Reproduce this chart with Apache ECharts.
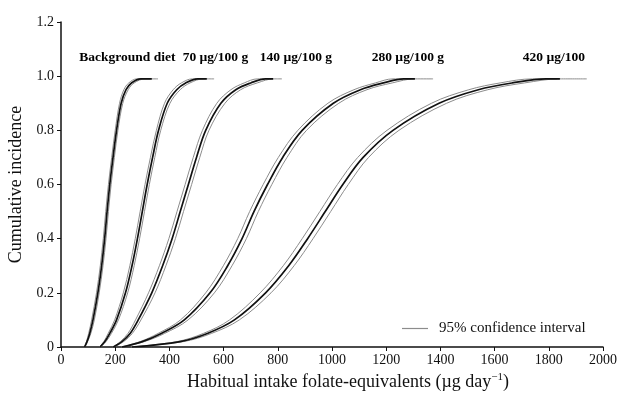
<!DOCTYPE html>
<html>
<head>
<meta charset="utf-8">
<script src="https://cdn.jsdelivr.net/npm/echarts/dist/echarts.min.js"></script>
<style>
html,body{margin:0;padding:0;background:#fff;}
#c{width:619px;height:393px;}
</style>
</head>
<body>
<div id="c"></div>
<script>
// cumulative incidence levels (y) at which the curves were read
const yLevels = [0, 0.02, 0.05, 0.1, 0.2, 0.3, 0.4, 0.5, 0.6, 0.7, 0.8, 0.9, 0.95, 0.975, 0.99, 0.99];

// habitual intake (x) for each group: central estimate, lower and upper 95% CI
const bgMid  = [87, 96, 106, 118, 136, 150, 161, 170, 180, 192, 205, 222, 240, 260, 295, 335];
const bgLo   = [86, 94, 102, 113, 131, 145, 156, 165, 175, 187, 200, 216, 232, 250, 280, 330];
const bgHi   = [88, 98, 110, 123, 141, 155, 166, 175, 185, 197, 210, 228, 248, 270, 310, 358];

const f70Mid = [144, 162, 180, 205, 238, 262, 282, 300, 318, 338, 360, 392, 427, 460, 505, 538];
const f70Lo  = [142, 158, 174, 198, 230, 254, 274, 292, 310, 330, 352, 382, 414, 444, 485, 530];
const f70Hi  = [146, 166, 186, 212, 246, 270, 290, 308, 326, 346, 368, 402, 440, 476, 525, 565];

const f140Mid = [193, 225, 255, 285, 335, 375, 410, 440, 470, 500, 534, 590, 645, 700, 755, 783];
const f140Lo  = [191, 219, 247, 275, 323, 363, 398, 428, 458, 488, 522, 575, 627, 676, 725, 775];
const f140Hi  = [195, 231, 263, 295, 347, 387, 422, 452, 482, 512, 546, 605, 663, 724, 785, 815];

const f280Mid = [225, 300, 370, 455, 550, 615, 668, 712, 762, 818, 890, 1005, 1105, 1190, 1265, 1306];
const f280Lo  = [222, 292, 358, 441, 534, 599, 652, 696, 746, 802, 874, 985, 1081, 1160, 1225, 1290];
const f280Hi  = [228, 308, 382, 469, 566, 631, 684, 728, 778, 834, 906, 1025, 1129, 1222, 1305, 1373];

const f420Mid = [262, 440, 540, 640, 755, 840, 910, 975, 1040, 1115, 1225, 1395, 1540, 1665, 1790, 1841];
const f420Lo  = [258, 428, 525, 622, 735, 820, 890, 955, 1020, 1095, 1203, 1367, 1505, 1620, 1740, 1830];
const f420Hi  = [266, 452, 555, 658, 775, 860, 930, 995, 1060, 1135, 1247, 1423, 1575, 1710, 1840, 1940];

// group labels and their anchor (data units)
const groupNames  = ['Background diet', '70 \u00b5g/100 g', '140 \u00b5g/100 g', '280 \u00b5g/100 g', '420 \u00b5g/100'];
const groupLabelX = [245, 570, 867, 1280, 1819];
const groupLabelY = 1.07;

const ciName = '95% confidence interval';
const serif = "'Liberation Serif', 'Times New Roman', serif";

const groups = [
  [bgMid, bgLo, bgHi],
  [f70Mid, f70Lo, f70Hi],
  [f140Mid, f140Lo, f140Hi],
  [f280Mid, f280Lo, f280Hi],
  [f420Mid, f420Lo, f420Hi]
];

function pts(xs) { return xs.map((x, i) => [x, yLevels[i]]); }

const series = [];
groups.forEach((g, gi) => {
  [g[1], g[2]].forEach((xs) => {
    series.push({
      type: 'line', name: ciName, data: pts(xs), symbol: 'none',
      smooth: 0.35, silent: true,
      itemStyle: { color: '#8c8c8c' },
      lineStyle: { color: '#8c8c8c', width: 1 }, z: 2
    });
  });
  series.push({
    type: 'line', name: 'group' + gi, data: pts(g[0]), symbol: 'none',
    smooth: 0.35, silent: true,
    itemStyle: { color: '#111' },
    lineStyle: { color: '#111', width: 1.7 }, z: 3
  });
});
series.push({
  type: 'scatter', name: 'labels', symbolSize: 1, silent: true,
  itemStyle: { color: 'rgba(255,255,255,0)' },
  data: groupNames.map((n, i) => ({ name: n, value: [groupLabelX[i], groupLabelY] })),
  label: { show: true, position: 'inside', formatter: '{b}', color: '#000', opacity: 1,
           fontFamily: serif, fontSize: 13.5, fontWeight: 'bold' },
  z: 5
});

const chart = echarts.init(document.getElementById('c'), null, { renderer: 'canvas' });
chart.setOption({
  animation: false,
  backgroundColor: '#fff',
  grid: { left: 61, right: 16, top: 22, bottom: 46, containLabel: false, outerBoundsMode: 'none' },
  legend: {
    data: [{ name: ciName, icon: 'rect' }], left: 397, top: 316, itemWidth: 26, itemHeight: 1.2,
    textStyle: { fontFamily: serif, fontSize: 15, color: '#111', padding: [0, 0, 0, 6] }
  },
  xAxis: {
    type: 'value', min: 0, max: 2000, interval: 200,
    name: 'Habitual intake folate-equivalents (\u00b5g day{sup|\u22121})',
    nameLocation: 'middle', nameGap: 25,
    nameTextStyle: { fontFamily: serif, fontSize: 18, color: '#111', padding: [0, 0, 0, 32],
      rich: { sup: { fontFamily: serif, fontSize: 11, color: '#111', verticalAlign: 'bottom', padding: [0, 0, 9, 0] } } },
    axisLine: { show: true, lineStyle: { color: '#111', width: 1.5 } },
    axisTick: { show: true, inside: false, length: 4, lineStyle: { color: '#111' } },
    axisLabel: { fontFamily: serif, fontSize: 14, color: '#111', margin: 6,
      formatter: v => String(v) },
    splitLine: { show: false }
  },
  yAxis: {
    type: 'value', min: 0, max: 1.2, interval: 0.2,
    name: 'Cumulative incidence', nameLocation: 'middle', nameGap: 28,
    nameTextStyle: { fontFamily: serif, fontSize: 18, color: '#111' },
    axisLine: { show: true, lineStyle: { color: '#111', width: 1.5 } },
    axisTick: { show: true, inside: false, length: 4, lineStyle: { color: '#111' } },
    axisLabel: { fontFamily: serif, fontSize: 14, color: '#111', margin: 7,
      formatter: v => (v === 0 ? '0' : v.toFixed(1)) },
    splitLine: { show: false }
  },
  series: series
});
</script>
</body>
</html>
